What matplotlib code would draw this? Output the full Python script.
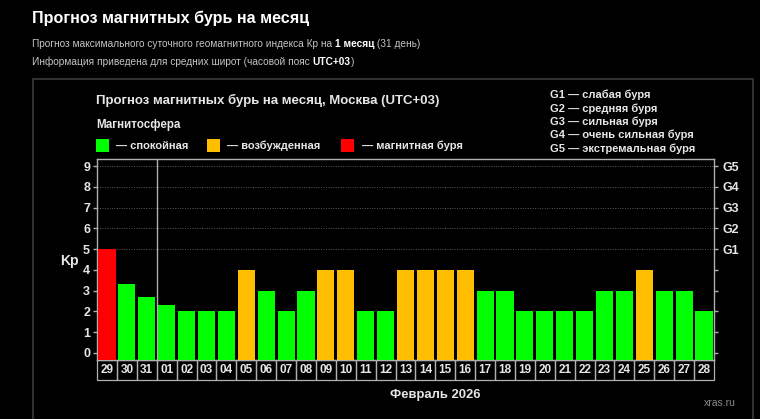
import matplotlib
matplotlib.use("Agg")
import matplotlib.pyplot as plt
import matplotlib.transforms as mtransforms
from matplotlib.patches import Rectangle

plt.rcParams['font.family'] = ['Liberation Sans', 'DejaVu Sans']

# data
days = ['29', '30', '31', '01', '02', '03', '04', '05', '06', '07', '08',
        '09', '10', '11', '12', '13', '14', '15', '16', '17', '18', '19',
        '20', '21', '22', '23', '24', '25', '26', '27', '28']
kp = [5, 3.33, 2.67, 2.33, 2, 2, 2, 4, 3, 2, 3,
      4, 4, 2, 2, 4, 4, 4, 4, 3, 3, 2,
      2, 2, 2, 3, 3, 4, 3, 3, 2]
g_labels = ['G1', 'G2', 'G3', 'G4', 'G5']
g_levels = [5, 6, 7, 8, 9]
g_legend = ['G1 — слабая буря', 'G2 — средняя буря', 'G3 — сильная буря',
            'G4 — очень сильная буря', 'G5 — экстремальная буря']
states = ['— спокойная', '— возбужденная', '— магнитная буря']
month_label = 'Февраль 2026'
prev_month_days = 3

GREEN, ORANGE, RED = '#00ff00', '#ffbf00', '#ff0000'
TXT = '#e6e6e6'
EDGE = '#b0b0b0'

W, H = 760, 419
fig = plt.figure(figsize=(W / 100, H / 100), dpi=100, facecolor='black')


def P(x, y):
    """pixel coords (from top-left) -> figure fraction"""
    return x / W, 1 - y / H


def ftext(x, y, s, **kw):
    fx, fy = P(x, y)
    kw.setdefault('va', 'center')
    kw.setdefault('ha', 'left')
    return fig.text(fx, fy, s, **kw)


def color_of(v):
    if v >= 5:
        return RED
    if v >= 4:
        return ORANGE
    return GREEN


# header
ftext(32, 18, 'Прогноз магнитных бурь на месяц', color='white', fontsize=11.6, fontweight='bold')

renderer = fig.canvas.get_renderer()


def run_text(x, y, parts, size):
    for s, bold in parts:
        t = ftext(x, y, s, color='white' if bold else '#c4c4c4', fontsize=size,
                  fontweight='bold' if bold else 'normal')
        x += t.get_window_extent(renderer).width


run_text(32, 44, [('Прогноз максимального суточного геомагнитного индекса Кр на ', False),
                  ('1 месяц', True), (' (31 день)', False)], 7.3)
run_text(32, 62, [('Информация приведена для средних широт (часовой пояс ', False),
                  ('UTC+03', True), (')', False)], 7.3)

# outer frame
fig.add_artist(Rectangle(P(33, 425), (753 - 33) / W, (425 - 79) / H, transform=fig.transFigure,
                         fill=False, edgecolor='#3a3a3a', linewidth=1.2))

# chart titles and legend
ftext(96, 100, 'Прогноз магнитных бурь на месяц, Москва (UTC+03)', color=TXT, fontsize=9.5, fontweight='bold')
ftext(96, 125, 'Магнитосфера', color=TXT, fontsize=8.4, fontweight='bold')
for (sx, tx), c, s in zip([(96, 116), (207, 227), (341, 362)], [GREEN, ORANGE, RED], states):
    fig.add_artist(Rectangle(P(sx, 152), 13 / W, 13 / H, transform=fig.transFigure,
                             facecolor=c, edgecolor='none'))
    ftext(tx, 146, s, color=TXT, fontsize=8.0, fontweight='bold')
for i, s in enumerate(g_legend):
    ftext(550, 95 + i * 13.4, s, color=TXT, fontsize=8.0, fontweight='bold')

# axes
l, r, t, b = 97, 714, 159, 360
ax = fig.add_axes([l / W, 1 - b / H, (r - l) / W, (b - t) / H], facecolor='black')
ymin, ymax = -0.34, 9.34
x = list(range(len(days)))
ax.bar(x, [v - ymin for v in kp], bottom=ymin, width=0.86,
       color=[color_of(v) for v in kp], zorder=3)
ax.set_xlim(-0.5, len(days) - 0.5)
ax.set_ylim(ymin, ymax)

for lv in g_levels:
    ax.axhline(lv, color='#5a5a5a', linestyle=(0, (1, 1.5)), linewidth=0.7, zorder=1)
ax.axvline(prev_month_days - 0.5, color=EDGE, linewidth=1, zorder=4)

for sp in ax.spines.values():
    sp.set_color(EDGE)
    sp.set_linewidth(1)

ax.set_xticks([])
ax.set_yticks(range(10))
ax.tick_params(axis='y', colors=EDGE, labelcolor=TXT, length=3, width=1, labelsize=9, pad=2)
for lab in ax.get_yticklabels():
    lab.set_fontweight('bold')

ax2 = ax.twinx()
ax2.set_ylim(ymin, ymax)
ax2.set_yticks(range(10))
ax2.set_yticklabels([g_labels[g_levels.index(v)] if v in g_levels else '' for v in range(10)])
ax2.tick_params(axis='y', colors=EDGE, labelcolor=TXT, length=3, width=1, labelsize=9, pad=3)
for lab in ax2.get_yticklabels():
    lab.set_fontweight('bold')
for sp in ax2.spines.values():
    sp.set_visible(False)

# day boxes under the axis
trans = mtransforms.blended_transform_factory(ax.transData, ax.transAxes)
box_h = 20 / (b - t)
for i, d in enumerate(days):
    ax.add_patch(Rectangle((i - 0.5, -box_h), 1, box_h, transform=trans, clip_on=False,
                           fill=False, edgecolor=EDGE, linewidth=0.9))
    ax.text(i, -box_h / 2, d, transform=trans, ha='center', va='center',
            color=TXT, fontsize=8.5, fontweight='bold')

ax.text((prev_month_days - 0.5 + len(days) - 0.5) / 2, -35 / (b - t), month_label, transform=trans,
        ha='center', va='center', color=TXT, fontsize=9.4, fontweight='bold')

ftext(69, 261, 'Kp', color=TXT, fontsize=10, fontweight='bold', ha='center')
ftext(720, 403, 'xras.ru', color='#8a8a8a', fontsize=7.5, ha='center')

fig.savefig('out.png', dpi=100, facecolor='black')
